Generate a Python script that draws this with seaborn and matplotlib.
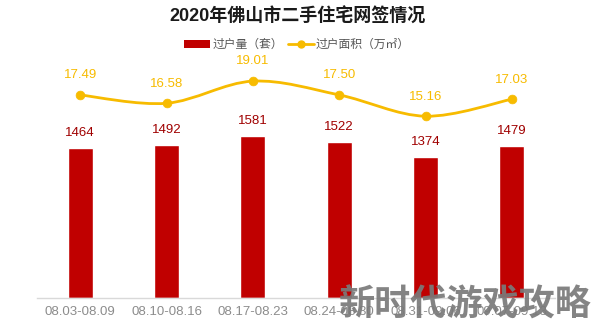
import numpy as np
import pandas as pd
import matplotlib
matplotlib.use("Agg")
import matplotlib.pyplot as plt
from matplotlib.path import Path
from matplotlib.patches import PathPatch
from matplotlib.lines import Line2D
from matplotlib.patches import Patch
import seaborn as sns

weeks = ["08.03-08.09", "08.10-08.16", "08.17-08.23", "08.24-08.30", "08.31-09.06", "09.07-09.13"]
units = [1464, 1492, 1581, 1522, 1374, 1479]
area = [17.49, 16.58, 19.01, 17.50, 15.16, 17.03]

BAR = "#c00000"
LINE = "#f7bb00"

sns.set_theme(style="white")
plt.rcParams["font.family"] = ["Liberation Sans", "Noto Sans CJK SC", "DejaVu Sans"]

df = pd.DataFrame({"week": weeks, "units": units, "area": area})

fig = plt.figure(figsize=(5.94, 3.26), dpi=100)
ax = fig.add_axes([37 / 594, 1 - 298 / 326, 518 / 594, 248 / 326])

sns.barplot(data=df, x="week", y="units", color=BAR, width=0.29, saturation=1, ax=ax)
ax.set_xlim(-0.5, 5.5)
ax.set_ylim(0, 2420)
for i, v in enumerate(units):
    ax.text(i, v + 90, f"{v}", ha="center", va="bottom", color="#a00000", fontsize=9.5)

ax.set_xlabel("")
ax.set_ylabel("")
ax.set_yticks([])
ax.tick_params(axis="x", length=0, labelsize=9.5, labelcolor="#8c8c8c", pad=6)
for s in ["top", "right", "left"]:
    ax.spines[s].set_visible(False)
ax.spines["bottom"].set_color("#d9d9d9")
ax.spines["bottom"].set_linewidth(1)

ax2 = ax.twinx()
ax2.set_ylim(-4.8, 22.43)
ax2.set_yticks([])
for s in ax2.spines.values():
    s.set_visible(False)

# smooth curve through the weekly points (Catmull-Rom segments as cubic Beziers)
xs = np.arange(len(area), dtype=float)
ys = np.array(area)
verts = [(xs[0], ys[0])]
codes = [Path.MOVETO]
t = 0.5
for i in range(len(xs) - 1):
    p0 = (xs[i - 1], ys[i - 1]) if i > 0 else (xs[i], ys[i])
    p1 = (xs[i], ys[i])
    p2 = (xs[i + 1], ys[i + 1])
    p3 = (xs[i + 2], ys[i + 2]) if i + 2 < len(xs) else (xs[i + 1], ys[i + 1])
    c1 = (p1[0] + (p2[0] - p0[0]) * t / 3, p1[1] + (p2[1] - p0[1]) * t / 3)
    c2 = (p2[0] - (p3[0] - p1[0]) * t / 3, p2[1] - (p3[1] - p1[1]) * t / 3)
    verts += [c1, c2, p2]
    codes += [Path.CURVE4] * 3
ax2.add_patch(PathPatch(Path(verts, codes), facecolor="none", edgecolor=LINE, lw=2))
sns.scatterplot(x=xs, y=ys, color=LINE, s=40, edgecolor=LINE, zorder=5, ax=ax2, legend=False)
for i, v in enumerate(area):
    ax2.text(i, v + 1.5, f"{v:.2f}", ha="center", va="bottom", color=LINE, fontsize=9.5)

fig.text(0.5, 1 - 17 / 326, "2020年佛山市二手住宅网签情况", ha="center", va="center",
         fontsize=13, fontweight="bold", color="#1a1a1a")

handles = [Patch(facecolor=BAR, edgecolor="none"),
           Line2D([0], [0], color=LINE, lw=2, marker="o", markersize=5)]
leg = fig.legend(handles, ["过户量（套）", "过户面积（万㎡）"], loc="center",
                 bbox_to_anchor=(0.5, 1 - 45 / 326), ncol=2, frameon=False,
                 fontsize=8.5, handlelength=2.2, handleheight=0.6, columnspacing=0.4,
                 handletextpad=0.2, labelcolor="#555555")

fig.text(0.995, 1 - 305 / 326, "新时代游戏攻略", ha="right", va="center",
         fontsize=26, fontweight="bold", color="#7a7a7a", alpha=0.92,
         family=["Noto Sans CJK SC"])

fig.savefig("out.png", dpi=100)
